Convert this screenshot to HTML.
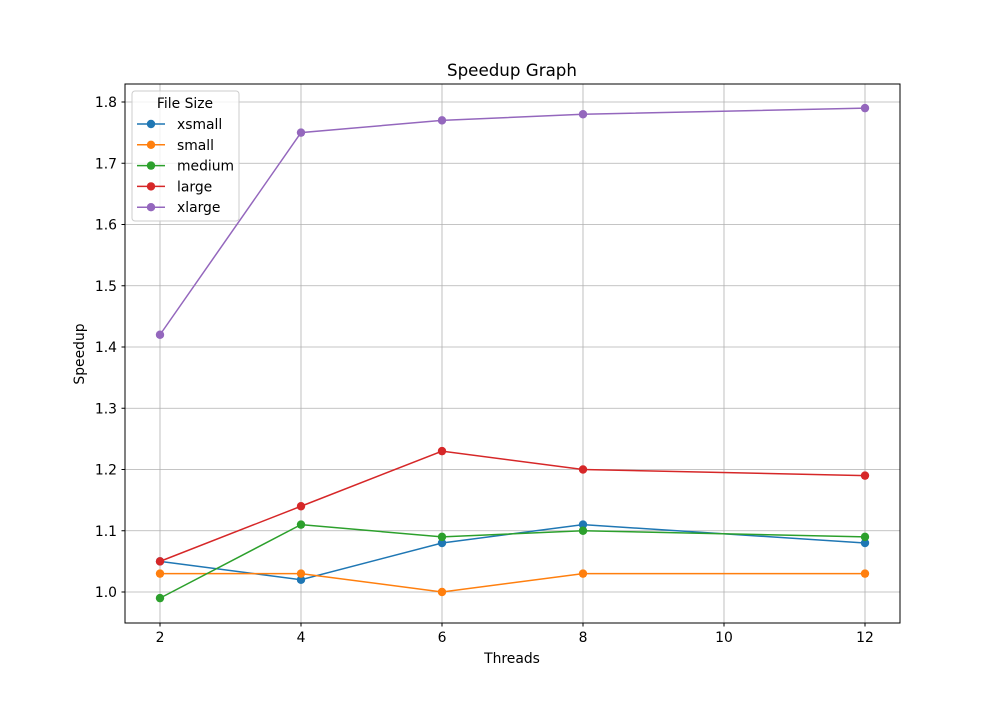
<!DOCTYPE html>
<html><head><meta charset="utf-8"><style>
body{margin:0;background:#fff;}
svg text{font-family:"DejaVu Sans","Liberation Sans",sans-serif;fill:#000;}
</style></head><body>
<svg id="chart" width="1000" height="700" xmlns="http://www.w3.org/2000/svg">
<rect x="0" y="0" width="1000" height="700" fill="#fff"/>
<g id="grid"></g>
<g id="marks"></g>
<rect x="125" y="84" width="775" height="539" fill="none" stroke="#000" stroke-width="1"/>
<g id="ticks"></g>
<text x="512" y="76" font-size="16.7" text-anchor="middle">Speedup Graph</text>
<text x="512" y="663" font-size="13.9" text-anchor="middle">Threads</text>
<text x="84" y="354" font-size="13.9" text-anchor="middle" transform="rotate(-90 84 354)">Speedup</text>
<g id="legend"></g>
</svg>
<script>
const threads=[2,4,6,8,12];
const seriesNames=["xsmall","small","medium","large","xlarge"];
const xsmall=[1.05,1.02,1.08,1.11,1.08];
const small=[1.03,1.03,1.00,1.03,1.03];
const medium=[0.99,1.11,1.09,1.10,1.09];
const large=[1.05,1.14,1.23,1.20,1.19];
const xlarge=[1.42,1.75,1.77,1.78,1.79];
const xTicks=[2,4,6,8,10,12];
const yTicks=[1.0,1.1,1.2,1.3,1.4,1.5,1.6,1.7,1.8];
const colors=["#1f77b4","#ff7f0e","#2ca02c","#d62728","#9467bd"];
const allSeries=[xsmall,small,medium,large,xlarge];
const NS="http://www.w3.org/2000/svg";
const xs=v=>160+(v-2)*70.5;
const ys=v=>592-(v-1.0)*612.5;
function mk(tag,attrs,parent){const e=document.createElementNS(NS,tag);for(const k in attrs)e.setAttribute(k,attrs[k]);parent.appendChild(e);return e;}
const grid=document.getElementById('grid'),ticks=document.getElementById('ticks'),marks=document.getElementById('marks'),legend=document.getElementById('legend');
xTicks.forEach(t=>{const x=xs(t);
 const g=mk('line',{x1:x,x2:x,y1:84,y2:623,stroke:'#b0b0b0','stroke-width':0.8},grid);
 
 
 mk('line',{x1:x,x2:x,y1:623,y2:626.5,stroke:'#000'},ticks);
 const l=mk('text',{x:x,y:642,'font-size':13.9,'text-anchor':'middle'},ticks);l.textContent=t;
 
 
});
yTicks.forEach(t=>{const y=ys(t);
 const g=mk('line',{x1:125,x2:900,y1:y,y2:y,stroke:'#b0b0b0','stroke-width':0.8},grid);
 
 
 mk('line',{x1:121.5,x2:125,y1:y,y2:y,stroke:'#000'},ticks);
 const l=mk('text',{x:117,y:y+5,'font-size':13.9,'text-anchor':'end'},ticks);l.textContent=t.toFixed(1);
 
 
});
allSeries.forEach((s,i)=>{
 const p=mk('polyline',{points:s.map((v,j)=>xs(threads[j])+','+ys(v)).join(' '),fill:'none',stroke:colors[i],'stroke-width':1.5},marks);
 
 
 s.forEach((v,j)=>{const c=mk('circle',{cx:xs(threads[j]),cy:ys(v),r:4.2,fill:colors[i]},marks);
  
  });
});
mk('rect',{x:132,y:91,width:107,height:130,rx:3,fill:'#fff','fill-opacity':0.8,stroke:'#ccc'},legend);
const lt=mk('text',{x:185,y:108,'font-size':13.9,'text-anchor':'middle'},legend);lt.textContent="File Size";


seriesNames.forEach((n,i)=>{const y=124+i*20.8;
 const g=mk('g',{},legend);
 
 
 mk('line',{x1:137,x2:165,y1:y,y2:y,stroke:colors[i],'stroke-width':1.5},g);
 mk('circle',{cx:151,cy:y,r:4.2,fill:colors[i]},g);
 const t=mk('text',{x:177,y:y+5,'font-size':13.9},g);t.textContent=n;
});
</script>
</body></html>
